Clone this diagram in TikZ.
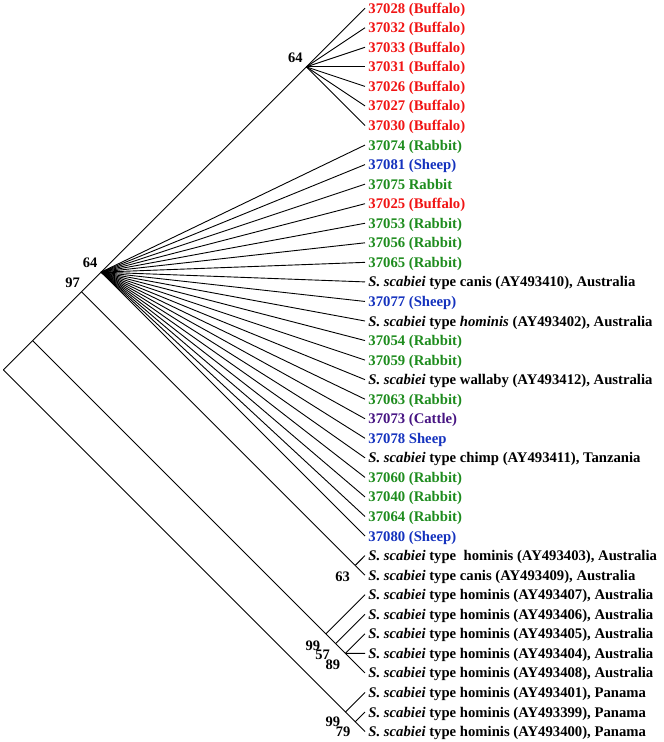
\documentclass[tikz,border=0pt]{standalone}
\usepackage{fontspec}
\setmainfont{Liberation Serif}
\definecolor{cred}{RGB}{240,20,20}
\definecolor{cgreen}{RGB}{30,140,30}
\definecolor{cblue}{RGB}{20,50,190}
\definecolor{cpurple}{RGB}{70,20,130}
\newcommand\lf[3]{%
  \coordinate (l#1) at (365,{8.2+19.55*(#1-1)});
  \node[leaflabel,text=#2] (t#1) at (l#1) {#3};}
\newcommand\Ss{\textit{S. scabiei}}
\begin{document}
\begin{tikzpicture}[x=1pt,y=-1pt,line width=0.9pt,
  leaflabel/.style={anchor=west,inner sep=0pt,xshift=3pt,text height=10pt,text depth=0pt,
    font=\fontsize{14.7}{16}\selectfont\bfseries},
  bs/.style={inner sep=0pt,font=\fontsize{14.5}{16}\selectfont\bfseries},
  branch/.style={draw=black,line width=0.9pt}]
\useasboundingbox (0,0) rectangle (664,742);
% leaves
\lf{1}{cred}{37028 (Buffalo)}
\lf{2}{cred}{37032 (Buffalo)}
\lf{3}{cred}{37033 (Buffalo)}
\lf{4}{cred}{37031 (Buffalo)}
\lf{5}{cred}{37026 (Buffalo)}
\lf{6}{cred}{37027 (Buffalo)}
\lf{7}{cred}{37030 (Buffalo)}
\lf{8}{cgreen}{37074 (Rabbit)}
\lf{9}{cblue}{37081 (Sheep)}
\lf{10}{cgreen}{37075 Rabbit}
\lf{11}{cred}{37025 (Buffalo)}
\lf{12}{cgreen}{37053 (Rabbit)}
\lf{13}{cgreen}{37056 (Rabbit)}
\lf{14}{cgreen}{37065 (Rabbit)}
\lf{15}{black}{\Ss{} type canis (AY493410), Australia}
\lf{16}{cblue}{37077 (Sheep)}
\lf{17}{black}{\Ss{} type \textit{hominis} (AY493402), Australia}
\lf{18}{cgreen}{37054 (Rabbit)}
\lf{19}{cgreen}{37059 (Rabbit)}
\lf{20}{black}{\Ss{} type wallaby (AY493412), Australia}
\lf{21}{cgreen}{37063 (Rabbit)}
\lf{22}{cpurple}{37073 (Cattle)}
\lf{23}{cblue}{37078 Sheep}
\lf{24}{black}{\Ss{} type chimp (AY493411), Tanzania}
\lf{25}{cgreen}{37060 (Rabbit)}
\lf{26}{cgreen}{37040 (Rabbit)}
\lf{27}{cgreen}{37064 (Rabbit)}
\lf{28}{cblue}{37080 (Sheep)}
\lf{29}{black}{\Ss{} type\ \ hominis (AY493403), Australia}
\lf{30}{black}{\Ss{} type canis (AY493409), Australia}
\lf{31}{black}{\Ss{} type hominis (AY493407), Australia}
\lf{32}{black}{\Ss{} type hominis (AY493406), Australia}
\lf{33}{black}{\Ss{} type hominis (AY493405), Australia}
\lf{34}{black}{\Ss{} type hominis (AY493404), Australia}
\lf{35}{black}{\Ss{} type hominis (AY493408), Australia}
\lf{36}{black}{\Ss{} type hominis (AY493401), Panama}
\lf{37}{black}{\Ss{} type hominis (AY493399), Panama}
\lf{38}{black}{\Ss{} type hominis (AY493400), Panama}
% internal nodes
\coordinate (n64a) at (306.35,66.85);
\coordinate (n64b) at (101.08,272.13);
\coordinate (n63) at (355.23,565.38);
\coordinate (n97) at (81.53,291.68);
\coordinate (n99a) at (325.9,633.8);
\coordinate (n57) at (335.68,643.58);
\coordinate (n89) at (345.45,653.35);
\coordinate (nA) at (32.65,340.55);
\coordinate (n99b) at (345.45,712);
\coordinate (n79) at (355.23,721.78);
\coordinate (root) at (3.33,369.88);
% branches
\foreach \c in {1,...,7} \draw[branch] (n64a) -- (l\c);
\draw[branch] (n64b) -- (n64a);
\foreach \c in {8,...,28} \draw[branch] (n64b) -- (l\c);
\draw[branch] (n63) -- (l29);
\draw[branch] (n63) -- (l30);
\draw[branch] (n97) -- (n64b);
\draw[branch] (n97) -- (n63);
\draw[branch] (n89) -- (l33);
\draw[branch] (n89) -- (l34);
\draw[branch] (n89) -- (l35);
\draw[branch] (n57) -- (l32);
\draw[branch] (n57) -- (n89);
\draw[branch] (n99a) -- (l31);
\draw[branch] (n99a) -- (n57);
\draw[branch] (nA) -- (n97);
\draw[branch] (nA) -- (n99a);
\draw[branch] (n79) -- (l37);
\draw[branch] (n79) -- (l38);
\draw[branch] (n99b) -- (l36);
\draw[branch] (n99b) -- (n79);
\draw[branch] (root) -- (nA);
\draw[branch] (root) -- (n99b);
% bootstrap values
\node[bs] (b64a) at ([shift={(-11,-9)}]n64a) {64};
\node[bs] (b64b) at ([shift={(-11,-9)}]n64b) {64};
\node[bs] (b97) at ([shift={(-9,-9)}]n97) {97};
\node[bs] (b63) at ([shift={(-12.5,11)}]n63) {63};
\node[bs] (b99a) at ([shift={(-13,12)}]n99a) {99};
\node[bs] (b57) at ([shift={(-13,11.5)}]n57) {57};
\node[bs] (b89) at ([shift={(-12.5,11)}]n89) {89};
\node[bs] (b99b) at ([shift={(-12.5,10)}]n99b) {99};
\node[bs] (b79) at ([shift={(-12,10)}]n79) {79};
\end{tikzpicture}
\end{document}
